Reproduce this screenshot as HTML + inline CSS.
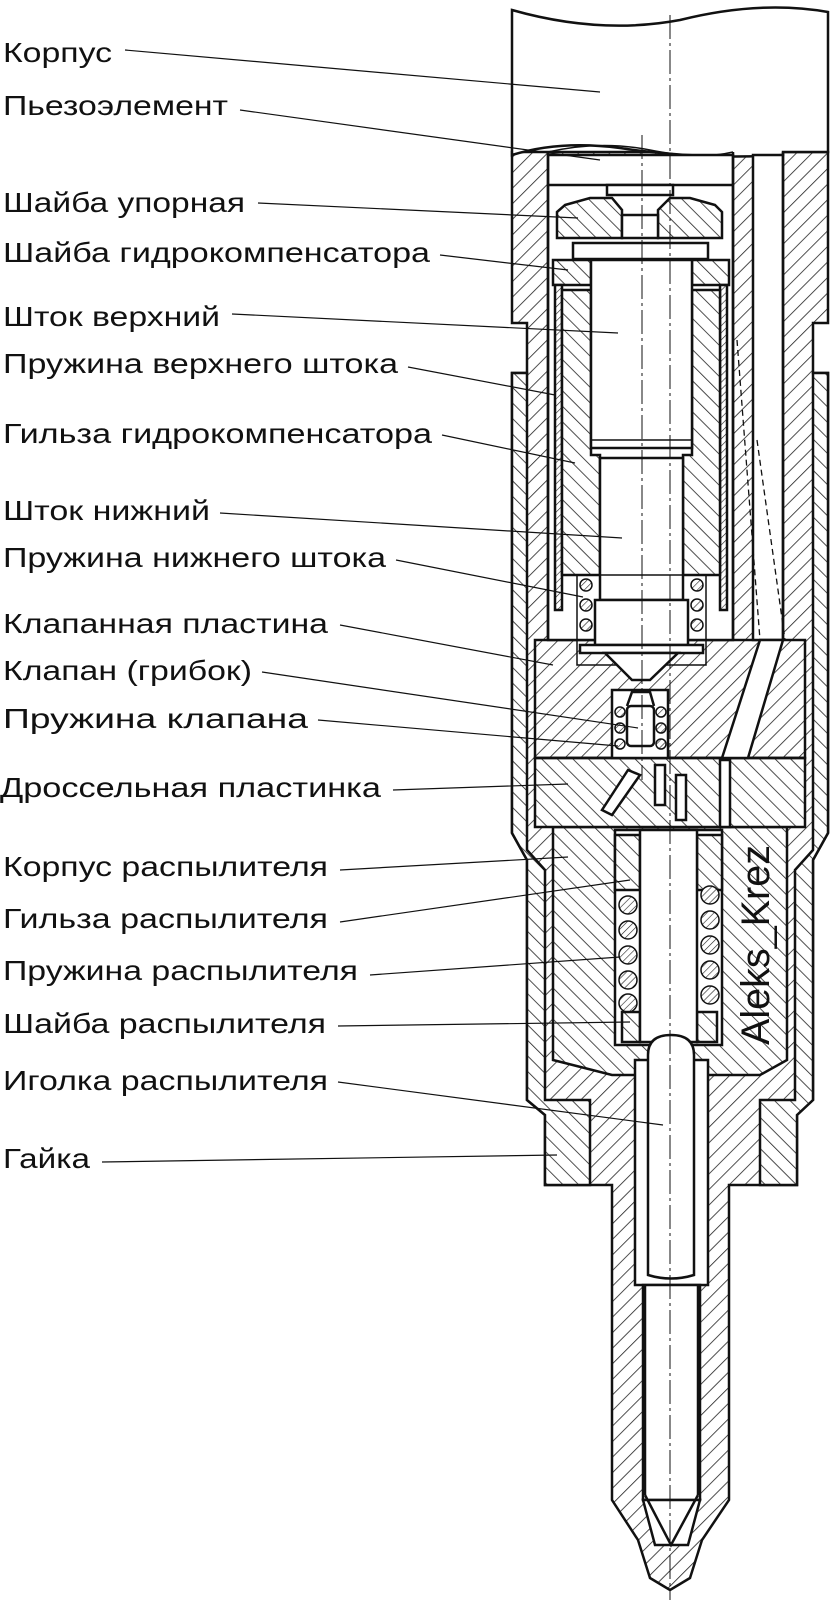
<!DOCTYPE html>
<html><head><meta charset="utf-8"><style>
html,body{margin:0;padding:0;background:#fff;}
svg{display:block;}
text{font-family:"Liberation Sans","Noto Sans CJK SC",sans-serif;font-size:28px;fill:#111;}
</style></head><body>
<svg width="831" height="1600" viewBox="0 0 831 1600" xmlns="http://www.w3.org/2000/svg">
<defs>
<pattern id="h1" width="11" height="11" patternUnits="userSpaceOnUse" patternTransform="rotate(45)">
<rect width="11" height="11" fill="#fff"/><line x1="0" y1="0" x2="0" y2="11" stroke="#222" stroke-width="1.6"/></pattern>
<pattern id="h2" width="11" height="11" patternUnits="userSpaceOnUse" patternTransform="rotate(-45)">
<rect width="11" height="11" fill="#fff"/><line x1="0" y1="0" x2="0" y2="11" stroke="#222" stroke-width="1.6"/></pattern>
<pattern id="h3" width="5" height="5" patternUnits="userSpaceOnUse" patternTransform="rotate(45)">
<rect width="5" height="5" fill="#fff"/><line x1="0" y1="0" x2="0" y2="5" stroke="#222" stroke-width="1.2"/></pattern>
</defs>
<g stroke="#111" stroke-width="2.5" fill="none">
<path fill="url(#h1)" d="M512,152 L828,152 L828,323 L813,323 L813,373 L828,373 L828,833 L813,860 L813,1100 L797,1115 L797,1185 L729,1185 L729,1500 L702,1540 L690,1578 L670,1590 L650,1578 L638,1540 L612,1500 L612,1185 L545,1185 L545,1115 L527,1100 L527,860 L512,833 L512,373 L527,373 L527,323 L512,323 Z"/>
<path fill="url(#h2)" d="M512,373 L527,373 L527,850 L545,870 L545,1100 L590,1100 L590,1185 L545,1185 L545,1115 L527,1100 L527,860 L512,833 Z"/>
<path fill="url(#h2)" d="M813,373 L828,373 L828,833 L813,860 L813,1100 L797,1115 L797,1185 L760,1185 L760,1100 L795,1100 L795,870 L813,850 Z"/>
<path fill="url(#h2)" d="M553,827 L787,827 L787,1060 L760,1075 L612,1075 L553,1060 Z"/>
<rect x="535" y="640" width="270" height="118" fill="url(#h1)"/>
<rect x="535" y="758" width="270" height="69" fill="url(#h2)"/>
<line x1="535" y1="758" x2="805" y2="758"/>
<path fill="#fff" d="M512,10 Q600,35 680,20 Q760,0 828,12 L828,152 L783,152 L783,155 Q700,160 620,148 Q560,140 512,155 Z"/>
<path d="M548,152 Q600,140 650,150 Q700,160 733,152" stroke-width="1.5"/>
<rect x="548" y="155" width="185" height="485" fill="#fff"/>
<rect x="753" y="155" width="30" height="485" fill="#fff"/>
<line x1="733" y1="152" x2="733" y2="640"/>
<line x1="527" y1="373" x2="527" y2="640" stroke-width="1.5"/>
<line x1="813" y1="373" x2="813" y2="640" stroke-width="1.5"/>
<line x1="548" y1="152" x2="548" y2="640"/>
<line x1="783" y1="152" x2="783" y2="640"/>
<line x1="548" y1="185" x2="733" y2="185"/>
<rect x="607" y="185" width="66" height="10" fill="#fff"/>
<path fill="url(#h2)" d="M565,205 L590,198 L612,198 L622,210 L622,238 L557,238 L557,212 Z"/>
<path fill="url(#h2)" d="M715,205 L690,198 L670,198 L658,210 L658,238 L722,238 L722,212 Z"/>
<rect x="622" y="215" width="36" height="23" fill="#fff"/>
<rect x="573" y="243" width="135" height="16" fill="#fff"/>
<rect x="553" y="260" width="38" height="25" fill="url(#h2)"/>
<rect x="692" y="260" width="37" height="25" fill="url(#h2)"/>
<rect x="555" y="285" width="7" height="325" fill="url(#h3)"/>
<rect x="720" y="285" width="7" height="325" fill="url(#h3)"/>
<path fill="url(#h2)" d="M562,290 L591,290 L591,455 L600,455 L600,575 L562,575 Z"/>
<path fill="url(#h2)" d="M692,290 L720,290 L720,575 L683,575 L683,455 L692,455 Z"/>
<rect x="591" y="260" width="101" height="188" fill="#fff"/>
<line x1="591" y1="440" x2="692" y2="440" stroke-width="1.5"/>
<rect x="600" y="458" width="83" height="142" fill="#fff"/>
<g fill="url(#h3)" stroke-width="1.5">
<circle cx="586" cy="585" r="6"/><circle cx="586" cy="605" r="6"/><circle cx="586" cy="625" r="6"/>
<circle cx="697" cy="585" r="6"/><circle cx="697" cy="605" r="6"/><circle cx="697" cy="625" r="6"/>
</g>
<rect x="577" y="575" width="129" height="90" stroke-width="1.5"/>
<rect x="595" y="600" width="93" height="45" fill="#fff"/>
<rect x="580" y="645" width="123" height="8" fill="#fff"/>
<path fill="#fff" d="M605,653 L678,653 L650,680 L632,680 Z"/>
<rect x="612" y="690" width="56" height="68" fill="#fff"/>
<g fill="url(#h3)" stroke-width="1.5">
<circle cx="620" cy="712" r="5"/><circle cx="620" cy="728" r="5"/><circle cx="620" cy="744" r="5"/>
<circle cx="661" cy="712" r="5"/><circle cx="661" cy="728" r="5"/><circle cx="661" cy="744" r="5"/>
</g>
<rect x="627" y="706" width="27" height="40" rx="4" fill="#fff"/>
<path d="M627,706 L632,692 L650,692 L654,706"/>
<path fill="#fff" d="M628,770 L640,775 L612,815 L602,810 Z"/>
<rect x="655" y="765" width="10" height="40" fill="#fff"/>
<rect x="676" y="775" width="10" height="45" fill="#fff"/>
<rect x="720" y="760" width="10" height="67" fill="#fff"/>
<path fill="#fff" d="M760,640 L783,640 L748,758 L722,758 Z"/>
<path d="M737,340 L760,640" stroke-dasharray="6,4" stroke-width="1.3"/>
<path d="M757,440 L785,640" stroke-dasharray="6,4" stroke-width="1.3"/>
<rect x="615" y="830" width="107" height="215" fill="#fff"/>
<rect x="615" y="835" width="25" height="55" fill="url(#h2)"/>
<rect x="697" y="835" width="25" height="55" fill="url(#h2)"/>
<g fill="url(#h3)" stroke-width="1.5">
<circle cx="628" cy="905" r="9"/><circle cx="628" cy="930" r="9"/><circle cx="628" cy="955" r="9"/><circle cx="628" cy="980" r="9"/><circle cx="628" cy="1003" r="9"/>
<circle cx="710" cy="895" r="9"/><circle cx="710" cy="920" r="9"/><circle cx="710" cy="945" r="9"/><circle cx="710" cy="970" r="9"/><circle cx="710" cy="995" r="9"/>
</g>
<rect x="622" y="1012" width="18" height="30" fill="url(#h2)"/>
<rect x="697" y="1012" width="20" height="30" fill="url(#h2)"/>
<rect x="640" y="830" width="57" height="212" fill="#fff"/>
<rect x="635" y="1060" width="73" height="225" fill="#fff"/>
<rect x="643" y="1285" width="57" height="215" fill="#fff"/>
<path fill="#fff" d="M643,1500 L700,1500 L688,1545 L655,1545 Z"/>
<path fill="#fff" d="M648,1275 L648,1055 Q648,1035 671,1035 Q694,1035 694,1055 L694,1275 Q671,1282 648,1275 Z"/>
<line x1="645" y1="1285" x2="645" y2="1495"/>
<line x1="698" y1="1285" x2="698" y2="1495"/>
<path d="M645,1495 L671,1545 L698,1495"/>
<line x1="642" y1="135" x2="642" y2="780" stroke-width="1" stroke-dasharray="24,4,3,4"/>
<line x1="670" y1="15" x2="670" y2="1600" stroke-width="1" stroke-dasharray="24,4,3,4"/>
<g stroke-width="1.2">
<line x1="125" y1="50" x2="600" y2="92"/>
<line x1="240" y1="110" x2="600" y2="160"/>
<line x1="258" y1="203" x2="578" y2="218"/>
<line x1="440" y1="255" x2="568" y2="270"/>
<line x1="232" y1="314" x2="618" y2="333"/>
<line x1="408" y1="367" x2="555" y2="395"/>
<line x1="442" y1="435" x2="575" y2="463"/>
<line x1="220" y1="513" x2="622" y2="538"/>
<line x1="396" y1="560" x2="583" y2="597"/>
<line x1="340" y1="625" x2="553" y2="665"/>
<line x1="262" y1="672" x2="638" y2="728"/>
<line x1="318" y1="720" x2="618" y2="746"/>
<line x1="393" y1="790" x2="568" y2="784"/>
<line x1="340" y1="870" x2="568" y2="857"/>
<line x1="340" y1="922" x2="630" y2="880"/>
<line x1="370" y1="975" x2="620" y2="957"/>
<line x1="338" y1="1026" x2="630" y2="1022"/>
<line x1="338" y1="1082" x2="663" y2="1125"/>
<line x1="102" y1="1162" x2="557" y2="1155"/>
</g>
</g>
<text x="755" y="1045" transform="rotate(-90 755 1045)" style="font-size:40px" textLength="200" lengthAdjust="spacingAndGlyphs" dy="14">Aleks_Krez</text>
<g>
<text x="3" y="62" textLength="109" lengthAdjust="spacingAndGlyphs">Корпус</text>
<text x="3" y="115" textLength="225" lengthAdjust="spacingAndGlyphs">Пьезоэлемент</text>
<text x="3" y="212" textLength="242" lengthAdjust="spacingAndGlyphs">Шайба упорная</text>
<text x="3" y="262" textLength="427" lengthAdjust="spacingAndGlyphs">Шайба гидрокомпенсатора</text>
<text x="3" y="326" textLength="217" lengthAdjust="spacingAndGlyphs">Шток верхний</text>
<text x="3" y="373" textLength="395" lengthAdjust="spacingAndGlyphs">Пружина верхнего штока</text>
<text x="3" y="443" textLength="429" lengthAdjust="spacingAndGlyphs">Гильза гидрокомпенсатора</text>
<text x="3" y="520" textLength="207" lengthAdjust="spacingAndGlyphs">Шток нижний</text>
<text x="3" y="567" textLength="383" lengthAdjust="spacingAndGlyphs">Пружина нижнего штока</text>
<text x="3" y="633" textLength="325" lengthAdjust="spacingAndGlyphs">Клапанная пластина</text>
<text x="3" y="680" textLength="249" lengthAdjust="spacingAndGlyphs">Клапан (грибок)</text>
<text x="3" y="728" textLength="305" lengthAdjust="spacingAndGlyphs">Пружина клапана</text>
<text x="0" y="797" textLength="381" lengthAdjust="spacingAndGlyphs">Дроссельная пластинка</text>
<text x="3" y="876" textLength="325" lengthAdjust="spacingAndGlyphs">Корпус распылителя</text>
<text x="3" y="928" textLength="325" lengthAdjust="spacingAndGlyphs">Гильза распылителя</text>
<text x="3" y="980" textLength="355" lengthAdjust="spacingAndGlyphs">Пружина распылителя</text>
<text x="3" y="1033" textLength="323" lengthAdjust="spacingAndGlyphs">Шайба распылителя</text>
<text x="3" y="1090" textLength="325" lengthAdjust="spacingAndGlyphs">Иголка распылителя</text>
<text x="3" y="1168" textLength="87" lengthAdjust="spacingAndGlyphs">Гайка</text>
</g>
</svg>
</body></html>
